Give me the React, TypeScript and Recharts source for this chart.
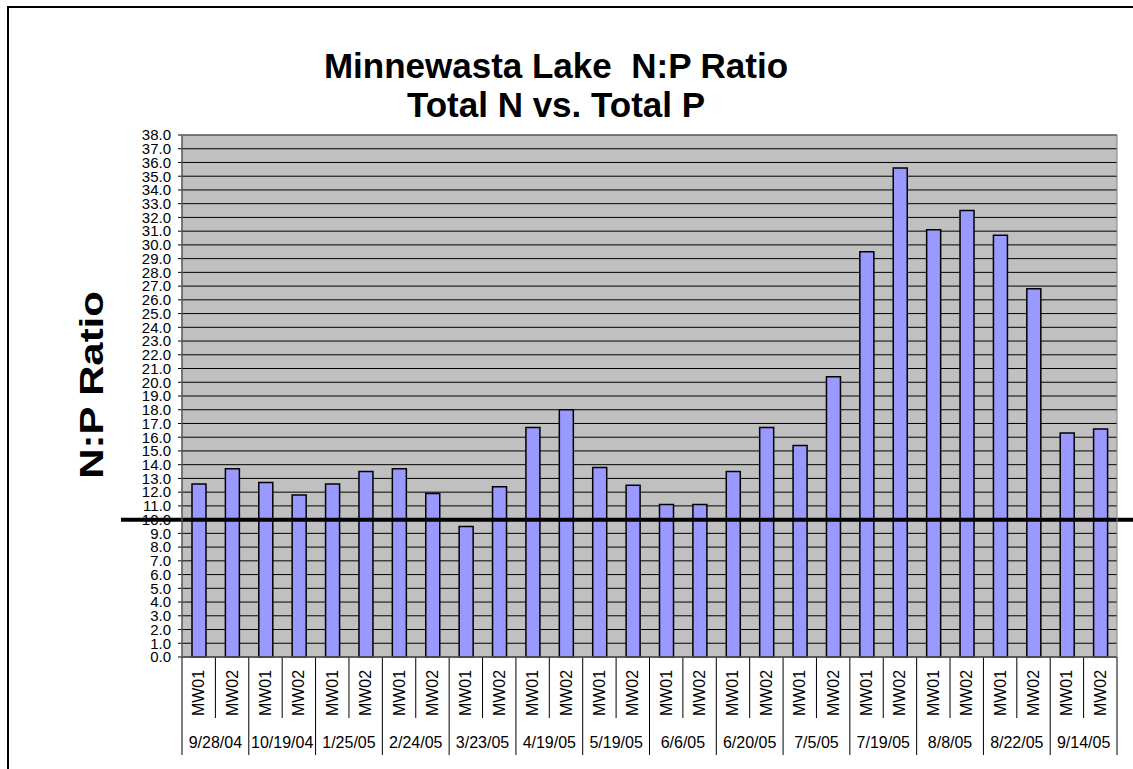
import React from 'react';
import { BarChart, Bar, XAxis, YAxis, CartesianGrid, ReferenceLine } from 'recharts';

const dates = ['9/28/04', '10/19/04', '1/25/05', '2/24/05', '3/23/05', '4/19/05', '5/19/05', '6/6/05', '6/20/05', '7/5/05', '7/19/05', '8/8/05', '8/22/05', '9/14/05'];
const sites = ['MW01', 'MW02'];
const mw01Ratio = [12.6, 12.7, 12.6, 13.7, 9.5, 16.7, 13.8, 11.1, 13.5, 15.4, 29.5, 31.1, 30.7, 16.3];
const mw02Ratio = [13.7, 11.8, 13.5, 11.9, 12.4, 18.0, 12.5, 11.1, 16.7, 20.4, 35.6, 32.5, 26.8, 16.6];
const yTicks = Array.from({ length: 39 }, (_, i) => i);
const threshold = 10;

const data = dates.flatMap((date, i) => [
  { key: `${date}-${sites[0]}`, site: sites[0], date, ratio: mw01Ratio[i] },
  { key: `${date}-${sites[1]}`, site: sites[1], date, ratio: mw02Ratio[i] },
]);

const W = 1133;
const H = 769;
const PLOT_LEFT = 182;
const PLOT_RIGHT = 1117;
const PLOT_TOP = 135;
const PLOT_BOTTOM = 657;
const BAND = (PLOT_RIGHT - PLOT_LEFT) / data.length;
const FONT = 'Arial, "Liberation Sans", sans-serif';

const CategoryTick = (props: any) => {
  const { x, payload } = props;
  const i = payload.index;
  const row = data[i];
  const left = x - BAND / 2;
  return (
    <g>
      <line x1={left} y1={PLOT_BOTTOM} x2={left} y2={i % 2 === 0 ? 755 : 718} stroke="#000" strokeWidth={1} />
      {i === data.length - 1 && (
        <line x1={x + BAND / 2} y1={PLOT_BOTTOM} x2={x + BAND / 2} y2={755} stroke="#000" strokeWidth={1} />
      )}
      <text
        x={0}
        y={0}
        transform={`translate(${x},693) rotate(-90)`}
        textAnchor="middle"
        dominantBaseline="central"
        fontFamily={FONT}
        fontSize={16}
        fill="#000"
      >
        {row.site}
      </text>
      {i % 2 === 0 && (
        <text x={x + BAND / 2} y={748} textAnchor="middle" fontFamily={FONT} fontSize={16} fill="#000">
          {row.date}
        </text>
      )}
    </g>
  );
};

const ThresholdLine = (p: any) => (
  <line x1={p.x1 - 61} y1={p.y1} x2={p.x2 + 16} y2={p.y2} stroke="#000" strokeWidth={4} />
);

const App = () => {
  return (
    <div style={{ position: 'absolute', left: 0, top: 0, width: W, height: H, background: '#fff', overflow: 'hidden' }}>
      <BarChart
        width={W}
        height={H}
        data={data}
        margin={{ top: PLOT_TOP, right: W - PLOT_RIGHT, bottom: 0, left: 0 }}
      >
        <CartesianGrid vertical={false} stroke="#000" fill="#C0C0C0" />
        <XAxis
          dataKey="key"
          interval={0}
          height={H - PLOT_BOTTOM}
          tickLine={false}
          axisLine={{ stroke: '#000' }}
          tick={<CategoryTick />}
        />
        <YAxis
          width={PLOT_LEFT}
          domain={[0, 38]}
          ticks={yTicks}
          interval={0}
          tickSize={4}
          tickMargin={7}
          tickFormatter={(v: number) => v.toFixed(1)}
          tick={{ fontFamily: FONT, fontSize: 15, fill: '#000' }}
          axisLine={{ stroke: '#000' }}
          tickLine={{ stroke: '#000' }}
          label={{
            content: () => (
              <text
                x={0}
                y={0}
                transform="translate(92,385) rotate(-90) scale(1.35,1.05)"
                textAnchor="middle"
                dominantBaseline="central"
                fontFamily={FONT}
                fontSize={31}
                fontWeight="bold"
                fill="#000"
              >
                N:P Ratio
              </text>
            ),
          }}
        />
        <Bar dataKey="ratio" barSize={14} fill="#9999FF" stroke="#000" strokeWidth={1.5} isAnimationActive={false} />
        <ReferenceLine y={threshold} shape={<ThresholdLine />} />
      </BarChart>
      <svg width={W} height={H} style={{ position: 'absolute', left: 0, top: 0, pointerEvents: 'none' }}>
        <rect x={PLOT_LEFT} y={PLOT_TOP} width={PLOT_RIGHT - PLOT_LEFT} height={PLOT_BOTTOM - PLOT_TOP} fill="none" stroke="#808080" strokeWidth={1} />
        <path d={`M8,${H} L8,7 L${W},7`} fill="none" stroke="#000" strokeWidth={2} />
        <text x={556} y={78} textAnchor="middle" fontFamily={FONT} fontSize={35} fontWeight="bold" fill="#000" style={{ whiteSpace: 'pre' }}>
          Minnewasta Lake  N:P Ratio
        </text>
        <text x={556} y={117} textAnchor="middle" fontFamily={FONT} fontSize={35} fontWeight="bold" fill="#000">
          Total N vs. Total P
        </text>
      </svg>
    </div>
  );
};

export default App;
